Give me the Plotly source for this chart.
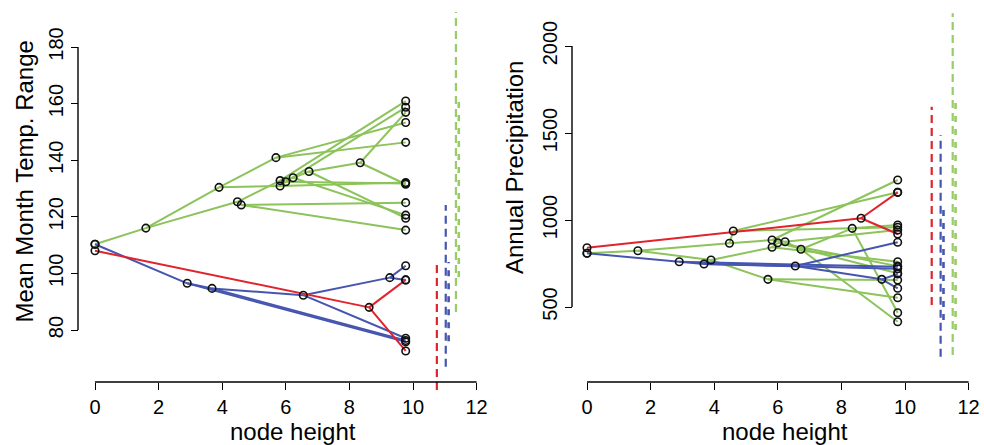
import plotly.graph_objects as go

W, H = 984, 445

# ---------------- data ----------------
xticks = [0, 2, 4, 6, 8, 10, 12]
temp_ticks = [80, 100, 120, 140, 160, 180]
precip_ticks = [500, 1000, 1500, 2000]

node_height = {
    "root_g": 0.0, "root_b": 0.0, "root_r": 0.0,
    "g1": 1.6, "g2": 3.9, "g3": 4.48, "g4": 4.6, "g5": 5.69, "g6": 5.82,
    "g7": 5.82, "g8": 6.0, "g9": 6.23, "g10": 6.73, "g11": 8.34,
    "b1": 2.9, "b2": 3.68, "bX": 6.55, "b3": 9.27, "r1": 8.62,
    "tg1": 9.77, "tg2": 9.77, "tg3": 9.77, "tg4": 9.77, "tg5": 9.77, "tg6": 9.77,
    "tg7": 9.77, "tg8": 9.77, "tg9": 9.77, "tg10": 9.77, "tg11": 9.77, "tg12": 9.77,
    "tb1": 9.77, "tb2": 9.77, "tb3": 9.77, "tb4": 9.77, "tb5": 9.77,
    "tr1": 9.77, "tr2": 9.77,
}

temp_range = {
    "root_g": 110.3, "root_b": 110.3, "root_r": 108.0,
    "g1": 116.0, "g2": 130.4, "g3": 125.3, "g4": 124.2, "g5": 140.9, "g6": 132.8,
    "g7": 130.9, "g8": 132.4, "g9": 133.8, "g10": 136.0, "g11": 139.1,
    "b1": 96.5, "b2": 94.7, "bX": 92.3, "b3": 98.5, "r1": 88.0,
    "tg1": 153.3, "tg2": 146.3, "tg3": 158.7, "tg4": 131.8, "tg5": 132.1, "tg6": 125.0,
    "tg7": 115.3, "tg8": 160.9, "tg9": 120.6, "tg10": 119.5, "tg11": 156.9, "tg12": 131.5,
    "tb1": 75.8, "tb2": 76.3, "tb3": 77.1, "tb4": 102.7, "tb5": 97.7,
    "tr1": 97.7, "tr2": 72.6,
}

annual_precip = {
    "root_g": 808.6, "root_b": 808.6, "root_r": 840.8,
    "g1": 823.6, "g2": 770, "g3": 866, "g4": 937, "g5": 659, "g6": 885,
    "g7": 843, "g8": 869.5, "g9": 875, "g10": 831.6, "g11": 952,
    "b1": 760, "b2": 747, "bX": 735.6, "b3": 659, "r1": 1009.8,
    "tg1": 655, "tg2": 553, "tg3": 735, "tg4": 693.7, "tg5": 760, "tg6": 1159,
    "tg7": 958, "tg8": 1230, "tg9": 942, "tg10": 415.5, "tg11": 971, "tg12": 467,
    "tb1": 731, "tb2": 720, "tb3": 872, "tb4": 607.5, "tb5": 690,
    "tr1": 1159, "tr2": 919.5,
}

green_edges = [
    ("root_g", "g1"), ("g1", "g2"), ("g1", "g3"),
    ("g2", "g5"), ("g2", "g7"), ("g5", "tg1"), ("g5", "tg2"),
    ("g7", "tg5"), ("g7", "g8"), ("g8", "tg3"), ("g8", "tg4"),
    ("g3", "g4"), ("g3", "g6"), ("g4", "tg6"), ("g4", "tg7"),
    ("g6", "tg8"), ("g6", "g9"), ("g9", "g10"), ("g9", "tg9"),
    ("g10", "g11"), ("g10", "tg10"), ("g11", "tg11"), ("g11", "tg12"),
]
blue_edges = [
    ("root_b", "b1"), ("b1", "b2"), ("b1", "tb1"), ("b2", "bX"), ("b2", "tb2"),
    ("bX", "b3"), ("bX", "tb3"), ("b3", "tb4"), ("b3", "tb5"),
]
red_edges = [("root_r", "r1"), ("r1", "tr1"), ("r1", "tr2")]

# dashed posterior-density strips: position, full extent, denser core
dens_colors = ["red", "blue", "green"]
temp_dens_x = [10.75, 11.03, 11.35]
temp_dens_lo = [58.8, 67.0, 86.4]
temp_dens_hi = [104.0, 124.2, 192.4]
temp_core_lo = [None, 76.0, 98.7]
temp_core_hi = [None, 104.0, 162.0]
precip_dens_x = [10.84, 11.12, 11.5]
precip_dens_lo = [511, 214, 224]
precip_dens_hi = [1651, 1488, 2188]
precip_core_lo = [None, 425, 368]
precip_core_hi = [None, 1057, 1690]

# ---------------- style ----------------
COL = {"green": "#8cc35a", "blue": "#4655af", "red": "#e0232d"}
DCOL = {"green": "#98cc66", "blue": "#4655af", "red": "#e0232d"}
FONT = "Liberation Sans, Arial, Helvetica, sans-serif"

fig = go.Figure()


def edge_xy(edges, vals):
    xs, ys = [], []
    for p, c in edges:
        xs += [node_height[p], node_height[c], None]
        ys += [vals[p], vals[c], None]
    return xs, ys


def add_panel(vals, xa, ya, dx, dlo, dhi, clo, chi):
    for name, edges in (("green", green_edges), ("blue", blue_edges), ("red", red_edges)):
        xs, ys = edge_xy(edges, vals)
        fig.add_trace(go.Scatter(x=xs, y=ys, mode="lines", xaxis=xa, yaxis=ya,
                                 line=dict(color=COL[name], width=2), hoverinfo="skip",
                                 showlegend=False))
    names = list(node_height.keys())
    fig.add_trace(go.Scatter(x=[node_height[n] for n in names], y=[vals[n] for n in names],
                             mode="markers", xaxis=xa, yaxis=ya, showlegend=False,
                             marker=dict(symbol="circle-open", size=7.5, color="#111111",
                                         line=dict(width=1.6))))
    for i, cname in enumerate(dens_colors):
        fig.add_trace(go.Scatter(x=[dx[i], dx[i]], y=[dlo[i], dhi[i]], mode="lines",
                                 xaxis=xa, yaxis=ya, showlegend=False,
                                 line=dict(color=DCOL[cname], width=2.2, dash="8px,5px")))
        if clo[i] is not None:
            fig.add_trace(go.Scatter(x=[dx[i] + 0.09, dx[i] + 0.09], y=[clo[i], chi[i]],
                                     mode="lines", xaxis=xa, yaxis=ya, showlegend=False,
                                     line=dict(color=DCOL[cname], width=2.6, dash="6px,7px")))


add_panel(temp_range, "x", "y", temp_dens_x, temp_dens_lo, temp_dens_hi, temp_core_lo, temp_core_hi)
add_panel(annual_precip, "x2", "y2", precip_dens_x, precip_dens_lo, precip_dens_hi,
          precip_core_lo, precip_core_hi)

# ---------------- layout (pixel geometry) ----------------
PX_PER_X = 31.8
L_X0 = 95.0    # pixel of x=0, left panel
R_X0 = 587.0   # pixel of x=0, right panel
AX_Y = 382.0   # pixel row of x axes
PLOT_TOP, PLOT_BOT = 0.0, 400.0


def inv_ty(p):
    return 80 + (330 - p) / 2.83


def inv_py(p):
    return 500 + (307 - p) / 0.174


L_DOM = (70.0, 492.0)
R_DOM = (560.0, 984.0)

axis_common = dict(showgrid=False, zeroline=False, showline=False, ticks="outside",
                   ticklen=7, tickwidth=1.3, tickcolor="black",
                   tickfont=dict(family=FONT, size=20, color="black"), anchor="free")

fig.update_layout(
    width=W, height=H, margin=dict(l=0, r=0, t=0, b=0),
    paper_bgcolor="white", plot_bgcolor="white", showlegend=False,
    xaxis=dict(domain=[L_DOM[0] / W, L_DOM[1] / W],
               range=[(L_DOM[0] - L_X0) / PX_PER_X, (L_DOM[1] - L_X0) / PX_PER_X],
               tickvals=xticks, position=1 - AX_Y / H, **axis_common),
    yaxis=dict(domain=[1 - PLOT_BOT / H, 1 - PLOT_TOP / H],
               range=[inv_ty(PLOT_BOT), inv_ty(PLOT_TOP)],
               tickvals=temp_ticks, tickangle=-90, position=78 / W, **axis_common),
    xaxis2=dict(domain=[R_DOM[0] / W, R_DOM[1] / W],
                range=[(R_DOM[0] - R_X0) / PX_PER_X, (R_DOM[1] - R_X0) / PX_PER_X],
                tickvals=xticks, position=1 - AX_Y / H, **axis_common),
    yaxis2=dict(domain=[1 - PLOT_BOT / H, 1 - PLOT_TOP / H],
                range=[inv_py(PLOT_BOT), inv_py(PLOT_TOP)],
                tickvals=precip_ticks, tickangle=-90, position=572 / W, **axis_common),
)

# R-style axis lines spanning first..last tick
line_style = dict(color="black", width=1.4)
fig.add_shape(type="line", xref="x", yref="paper", x0=min(xticks), x1=max(xticks),
              y0=1 - AX_Y / H, y1=1 - AX_Y / H, line=line_style)
fig.add_shape(type="line", xref="x2", yref="paper", x0=min(xticks), x1=max(xticks),
              y0=1 - AX_Y / H, y1=1 - AX_Y / H, line=line_style)
fig.add_shape(type="line", xref="paper", yref="y", x0=78 / W, x1=78 / W,
              y0=min(temp_ticks), y1=max(temp_ticks), line=line_style)
fig.add_shape(type="line", xref="paper", yref="y2", x0=572 / W, x1=572 / W,
              y0=min(precip_ticks), y1=max(precip_ticks), line=line_style)

title_font = dict(family=FONT, size=24, color="black")
fig.add_annotation(text="Mean Month Temp. Range", xref="paper", yref="paper",
                   x=24 / W, y=1 - 181.5 / H, textangle=-90, showarrow=False,
                   font=title_font, xanchor="center", yanchor="middle")
fig.add_annotation(text="Annual Precipitation", xref="paper", yref="paper",
                   x=514 / W, y=1 - 168 / H, textangle=-90, showarrow=False,
                   font=title_font, xanchor="center", yanchor="middle")
fig.add_annotation(text="node height", xref="paper", yref="paper",
                   x=293 / W, y=1 - 431 / H, showarrow=False, font=title_font,
                   xanchor="center", yanchor="middle")
fig.add_annotation(text="node height", xref="paper", yref="paper",
                   x=785 / W, y=1 - 431 / H, showarrow=False, font=title_font,
                   xanchor="center", yanchor="middle")

fig.write_html("out.html", config={"displayModeBar": False},
               post_script="document.body.style.margin='0';document.body.style.overflow='hidden';")
